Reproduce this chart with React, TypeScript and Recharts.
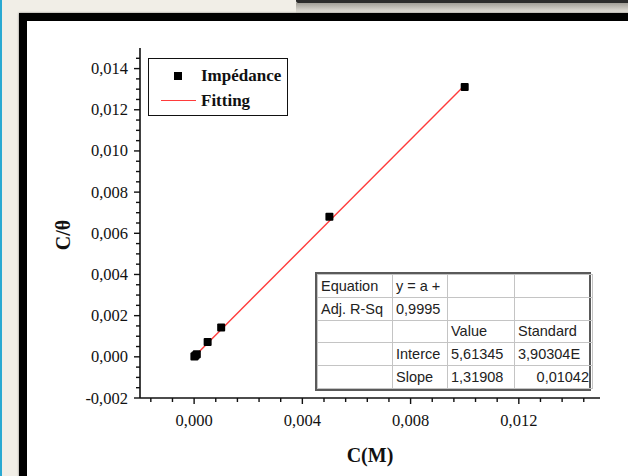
import React from 'react';
import { ComposedChart, Scatter, Line, XAxis, YAxis, Legend } from 'recharts';

// ---- data ----
const concentration = [0.00001, 0.00005, 0.0001, 0.0005, 0.001, 0.005, 0.01];
const cOverTheta = [0.000013, 0.000066, 0.00013, 0.00072, 0.00143, 0.0068, 0.0131];
const fitC = [0.00001, 0.01];
const fitValue = [0.0000188, 0.0131964];

const legendOrder = ['Impédance', 'Fitting'];

const xMajorTicks = [0, 0.004, 0.008, 0.012];
const xAllTicks = [-0.0016, -0.0008, 0, 0.0008, 0.0016, 0.0024, 0.0032, 0.004, 0.0048, 0.0056, 0.0064, 0.0072, 0.008, 0.0088, 0.0096, 0.0104, 0.0112, 0.012, 0.0128, 0.0136, 0.0144];
const yMajorTicks = [-0.002, 0, 0.002, 0.004, 0.006, 0.008, 0.01, 0.012, 0.014];
const yAllTicks = [-0.002, -0.0015, -0.001, -0.0005, 0, 0.0005, 0.001, 0.0015, 0.002, 0.0025, 0.003, 0.0035, 0.004, 0.0045, 0.005, 0.0055, 0.006, 0.0065, 0.007, 0.0075, 0.008, 0.0085, 0.009, 0.0095, 0.01, 0.0105, 0.011, 0.0115, 0.012, 0.0125, 0.013, 0.0135, 0.014, 0.0145];

const tableRows = [
  ['Equation', 'y = a +', '', ''],
  ['Adj. R-Sq', '0,9995', '', ''],
  ['', '', 'Value', 'Standard'],
  ['', 'Interce', '5,61345', '3,90304E'],
  ['', 'Slope', '1,31908', '0,01042'],
];
const tableColWidths = [75, 55, 67, 78];

const scatterData = concentration.map((c, i) => ({ x: c, y: cOverTheta[i] }));
const fitData = fitC.map((c, i) => ({ x: c, y: fitValue[i] }));

const SERIF = '"Liberation Serif", "Times New Roman", serif';
const SANS = '"Liberation Sans", Arial, sans-serif';
const INK = '#111';

const isMajor = (v: number, majors: number[]) => majors.some((m) => Math.abs(m - v) < 1e-9);
const fmt = (v: number) => (Math.abs(v) < 1e-12 ? 0 : v).toFixed(3).replace('.', ',');

const BottomTick = (props: any) => {
  const { x, y, payload } = props;
  const major = isMajor(payload.value, xMajorTicks);
  return (
    <g>
      <line x1={x} y1={y} x2={x} y2={y + (major ? 6 : 4)} stroke={INK} strokeWidth={1.4} />
      {major && (
        <text x={x} y={y + 28} textAnchor="middle" fontFamily={SERIF} fontSize={16.5} fill={INK}>
          {fmt(payload.value)}
        </text>
      )}
    </g>
  );
};

const TopTick = (props: any) => {
  const { x, y } = props;
  return <line x1={x} y1={y} x2={x} y2={y - 3} stroke="#444" strokeWidth={1} />;
};

const LeftTick = (props: any) => {
  const { x, y, payload } = props;
  const major = isMajor(payload.value, yMajorTicks);
  return (
    <g>
      <line x1={x} y1={y} x2={x - (major ? 6 : 4)} y2={y} stroke={INK} strokeWidth={1.4} />
      {major && (
        <text x={x - 12} y={y + 5.5} textAnchor="end" fontFamily={SERIF} fontSize={16.5} fill={INK}>
          {fmt(payload.value)}
        </text>
      )}
    </g>
  );
};

const RightTick = (props: any) => {
  const { x, y } = props;
  return <line x1={x} y1={y} x2={x + 3} y2={y} stroke="#444" strokeWidth={1} />;
};

const XTitle = (props: any) => {
  const vb = props.viewBox;
  return (
    <text x={vb.x + vb.width / 2} y={vb.y + 64} textAnchor="middle" fontFamily={SERIF} fontWeight="bold" fontSize={20} fill={INK}>
      C(M)
    </text>
  );
};

const YTitle = (props: any) => {
  const vb = props.viewBox;
  const cx = vb.x + 63;
  const cy = vb.y + vb.height / 2 + 12;
  return (
    <text x={cx} y={cy + 7} transform={`rotate(-90 ${cx} ${cy})`} textAnchor="middle" fontFamily={SERIF} fontWeight="bold" fontSize={20} fill={INK}>
      C/θ
    </text>
  );
};

const LegendBox = (props: any) => {
  const payload = [...(props.payload || [])].sort(
    (a: any, b: any) => legendOrder.indexOf(a.value) - legendOrder.indexOf(b.value)
  );
  return (
    <div
      style={{
        width: 140,
        height: 58,
        boxSizing: 'border-box',
        border: '1.5px solid #111',
        background: '#fff',
        fontFamily: SERIF,
        fontWeight: 'bold',
        fontSize: 17,
        color: INK,
        paddingTop: 4,
      }}
    >
      {payload.map((entry: any) => (
        <div key={entry.value} style={{ display: 'flex', alignItems: 'center', height: 25 }}>
          <div style={{ width: 52, display: 'flex', justifyContent: 'center', alignItems: 'center', paddingLeft: 6, boxSizing: 'border-box' }}>
            {entry.type === 'line' ? (
              <div style={{ width: 35, height: 1.5, background: entry.color }} />
            ) : (
              <div style={{ width: 8, height: 8, background: '#000' }} />
            )}
          </div>
          <span>{entry.value}</span>
        </div>
      ))}
    </div>
  );
};

const SquareDot = (props: any) => {
  const { cx, cy } = props;
  return <rect x={cx - 4} y={cy - 4} width={8} height={8} rx={1} fill="#000" />;
};

export default function App() {
  return (
    <div style={{ position: 'absolute', left: 0, top: 0, width: 628, height: 476, background: '#f1eee7', overflow: 'hidden' }}>
      <div style={{ position: 'absolute', left: 0, top: 0, width: 2, height: 476, background: '#2aa9d2' }} />
      <div style={{ position: 'absolute', left: 296, top: 0, width: 340, height: 3, background: '#2b2b2b', borderBottomLeftRadius: 2 }} />
      <div style={{ position: 'absolute', left: 296, top: 3, width: 340, height: 10, background: 'linear-gradient(#a09d96, #ebe8e1)' }} />
      <div
        style={{
          position: 'absolute',
          left: 19,
          top: 13,
          width: 640,
          height: 500,
          borderLeft: '8px solid #000',
          borderTop: '8px solid #000',
          background: '#fff',
          boxShadow: '0 0 2px rgba(0,0,0,0.5)',
        }}
      />
      <div style={{ position: 'absolute', left: 0, top: 0 }}>
        <ComposedChart width={628} height={476} margin={{ top: 48, right: 28, left: 0, bottom: 0 }}>
          <XAxis
            xAxisId="main"
            type="number"
            dataKey="x"
            domain={[-0.002, 0.015]}
            allowDataOverflow
            ticks={xAllTicks}
            interval={0}
            tickSize={0}
            tickMargin={0}
            tick={<BottomTick />}
            tickLine={false}
            height={78}
            axisLine={{ stroke: INK, strokeWidth: 1.6 }}
            label={XTitle}
          />
          <XAxis
            xAxisId="top"
            orientation="top"
            type="number"
            dataKey="x"
            domain={[-0.002, 0.015]}
            allowDataOverflow
            ticks={xAllTicks}
            interval={0}
            tickSize={0}
            tickMargin={0}
            tick={<TopTick />}
            tickLine={false}
            height={0}
            axisLine={{ stroke: '#333', strokeWidth: 1.4 }}
          />
          <YAxis
            yAxisId="main"
            type="number"
            domain={[-0.002, 0.015]}
            allowDataOverflow
            ticks={yAllTicks}
            interval={0}
            tickSize={0}
            tickMargin={0}
            tick={<LeftTick />}
            tickLine={false}
            width={140}
            axisLine={{ stroke: INK, strokeWidth: 1.6 }}
            label={YTitle}
          />
          <YAxis
            yAxisId="right"
            orientation="right"
            type="number"
            domain={[-0.002, 0.015]}
            allowDataOverflow
            ticks={yAllTicks}
            interval={0}
            tickSize={0}
            tickMargin={0}
            tick={<RightTick />}
            tickLine={false}
            width={0}
            axisLine={{ stroke: '#333', strokeWidth: 1.4 }}
          />
          <Legend
            layout="vertical"
            align="center"
            verticalAlign="middle"
            content={<LegendBox />}
            wrapperStyle={{ left: 148, top: 58, width: 140, height: 58 }}
          />
          <Line
            xAxisId="main"
            yAxisId="main"
            data={fitData}
            dataKey="y"
            name="Fitting"
            type="linear"
            stroke="#ff3b3b"
            strokeWidth={1.4}
            dot={false}
            activeDot={false}
            legendType="line"
            isAnimationActive={false}
          />
          <Scatter
            xAxisId="main"
            yAxisId="main"
            data={scatterData}
            dataKey="y"
            name="Impédance"
            shape={<SquareDot />}
            legendType="square"
            fill="#000"
            isAnimationActive={false}
          />
        </ComposedChart>
      </div>
      <div
        style={{
          position: 'absolute',
          left: 315,
          top: 272,
          width: 276,
          height: 119,
          boxSizing: 'border-box',
          border: '2px solid #5a5a5a',
          background: '#fff',
        }}
      >
        <table
          style={{
            borderCollapse: 'collapse',
            width: '100%',
            height: '100%',
            tableLayout: 'fixed',
            fontFamily: SANS,
            fontSize: 14.5,
            color: '#222',
          }}
        >
          <colgroup>
            {tableColWidths.map((w, i) => (
              <col key={i} style={{ width: w }} />
            ))}
          </colgroup>
          <tbody>
            {tableRows.map((row, r) => (
              <tr key={r}>
                {row.map((cell, c) => (
                  <td
                    key={c}
                    style={{
                      border: '1.5px solid #c4c4c4',
                      padding: '0 3px',
                      whiteSpace: 'nowrap',
                      overflow: 'hidden',
                      textAlign: r === 4 && c === 3 ? 'right' : 'left',
                      lineHeight: '20px',
                    }}
                  >
                    {cell}
                  </td>
                ))}
              </tr>
            ))}
          </tbody>
        </table>
      </div>
    </div>
  );
}
